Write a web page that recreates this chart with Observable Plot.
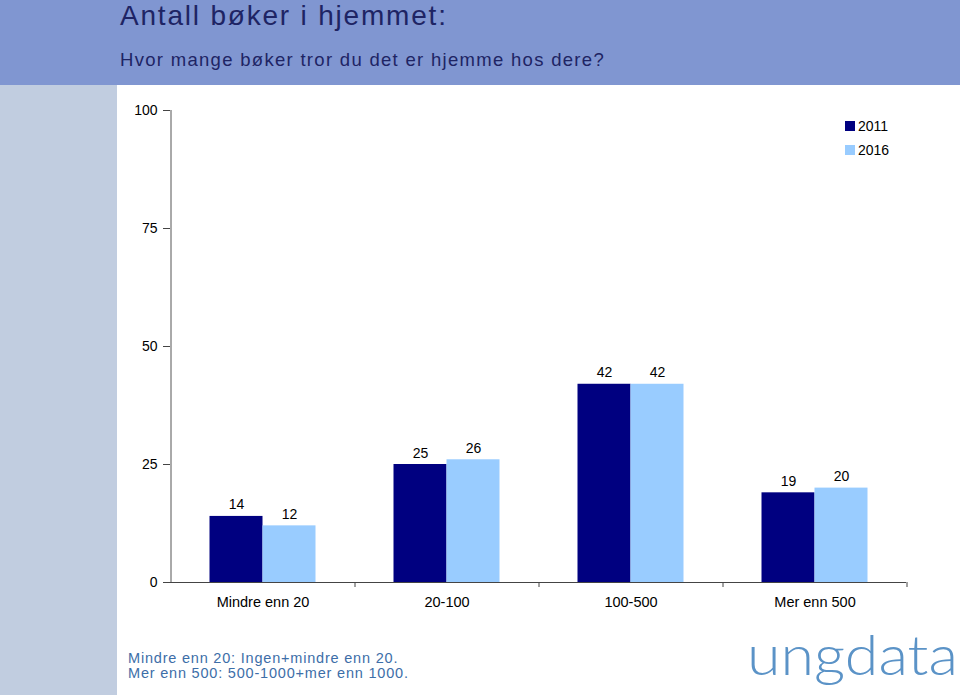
<!DOCTYPE html>
<html>
<head>
<meta charset="utf-8">
<script src="https://cdn.jsdelivr.net/npm/d3@7"></script>
<script src="https://cdn.jsdelivr.net/npm/@observablehq/plot@0.6"></script>
<style>
  html, body { margin: 0; padding: 0; }
  body { width: 960px; height: 695px; position: relative; overflow: hidden; background: #fff; font-family: "Liberation Sans", Arial, sans-serif; }
  #header { position: absolute; left: 0; top: 0; width: 960px; height: 85px; background: #8096d1; }
  #strip { position: absolute; left: 0; top: 85px; width: 117px; height: 610px; background: #c1cde0; }
  #title { position: absolute; left: 120px; top: -1px; font-size: 28px; line-height: 34px; letter-spacing: 1.8px; color: #1e2464; white-space: nowrap; }
  #subtitle { position: absolute; left: 120px; top: 49px; font-size: 18.5px; line-height: 21px; letter-spacing: 1.3px; color: #1e2464; white-space: nowrap; }
  #chart { position: absolute; left: 117px; top: 85px; }
  #legend { position: absolute; left: 845px; top: 114px; font-size: 14px; color: #000; }
  .li { display: flex; align-items: center; height: 24px; }
  .sw { width: 10px; height: 10px; margin-right: 3px; }
  .note { position: absolute; left: 128px; font-size: 14.5px; line-height: 16px; letter-spacing: 0.8px; color: #3d6ea8; white-space: nowrap; }
  #logo { position: absolute; left: 0; top: 600px; }
</style>
</head>
<body>
<div id="header"></div>
<div id="strip"></div>
<div id="title">Antall bøker i hjemmet:</div>
<div id="subtitle">Hvor mange bøker tror du det er hjemme hos dere?</div>
<div id="chart"></div>
<div id="legend"></div>
<div class="note" style="top:650px">Mindre enn 20: Ingen+mindre enn 20.</div>
<div class="note" style="top:665px">Mer enn 500: 500-1000+mer enn 1000.</div>
<svg id="logo" width="960" height="95" xmlns="http://www.w3.org/2000/svg">
  <text x="747" y="75" font-family="Lato, 'Open Sans', sans-serif" font-weight="300" font-size="56" fill="#5b93c7" textLength="211" lengthAdjust="spacingAndGlyphs">ungdata</text>
</svg>
<script>
const categories = ["Mindre enn 20", "20-100", "100-500", "Mer enn 500"];
const years = ["2011", "2016"];
const values2011 = [14, 25, 42, 19];
const values2016 = [12, 26, 42, 20];
const yTicks = [0, 25, 50, 75, 100];
const colors = ["#000080", "#99ccff"];

const d2011 = categories.map((c, i) => ({category: c, value: values2011[i]}));
const d2016 = categories.map((c, i) => ({category: c, value: values2016[i]}));

const half = 26.5;
const chart = Plot.plot({
  width: 843,
  height: 530,
  marginLeft: 53,
  marginRight: 54,
  marginTop: 25,
  marginBottom: 33,
  style: {fontFamily: "Liberation Sans, Arial, sans-serif", fontSize: "14px", color: "#000", background: "transparent"},
  x: {domain: categories, paddingInner: 0.712, paddingOuter: 0.356, axis: null, label: null},
  y: {domain: [0, 100], axis: null, label: null},
  marks: [
    Plot.barY(d2011, {x: "category", y: "value", fill: colors[0], dx: -half}),
    Plot.barY(d2016, {x: "category", y: "value", fill: colors[1], dx: half}),
    Plot.text(d2011, {x: "category", y: "value", text: d => String(d.value), dx: -half, dy: -7, lineAnchor: "bottom", fontSize: 14, fill: "#000"}),
    Plot.text(d2016, {x: "category", y: "value", text: d => String(d.value), dx: half, dy: -7, lineAnchor: "bottom", fontSize: 14, fill: "#000"}),
    Plot.ruleY([0], {stroke: "#444", strokeWidth: 1.2}),
    Plot.ruleX([categories[0]], {dx: -92, stroke: "#555", strokeWidth: 1}),
    Plot.axisY({ticks: yTicks, tickSize: 7, tickPadding: 6, fontSize: 14, stroke: "#444", label: null}),
    Plot.axisX({tickSize: 0, tickPadding: 14, fontSize: 14.5, label: null}),
    Plot.axisX({tickSize: 5, text: null, dx: 92, stroke: "#444", label: null})
  ]
});
document.getElementById("chart").appendChild(chart);

const legend = document.getElementById("legend");
years.forEach((y, i) => {
  const row = document.createElement("div");
  row.className = "li";
  const sw = document.createElement("div");
  sw.className = "sw";
  sw.style.background = colors[i];
  const t = document.createElement("span");
  t.textContent = y;
  row.appendChild(sw);
  row.appendChild(t);
  legend.appendChild(row);
});
</script>
</body>
</html>
